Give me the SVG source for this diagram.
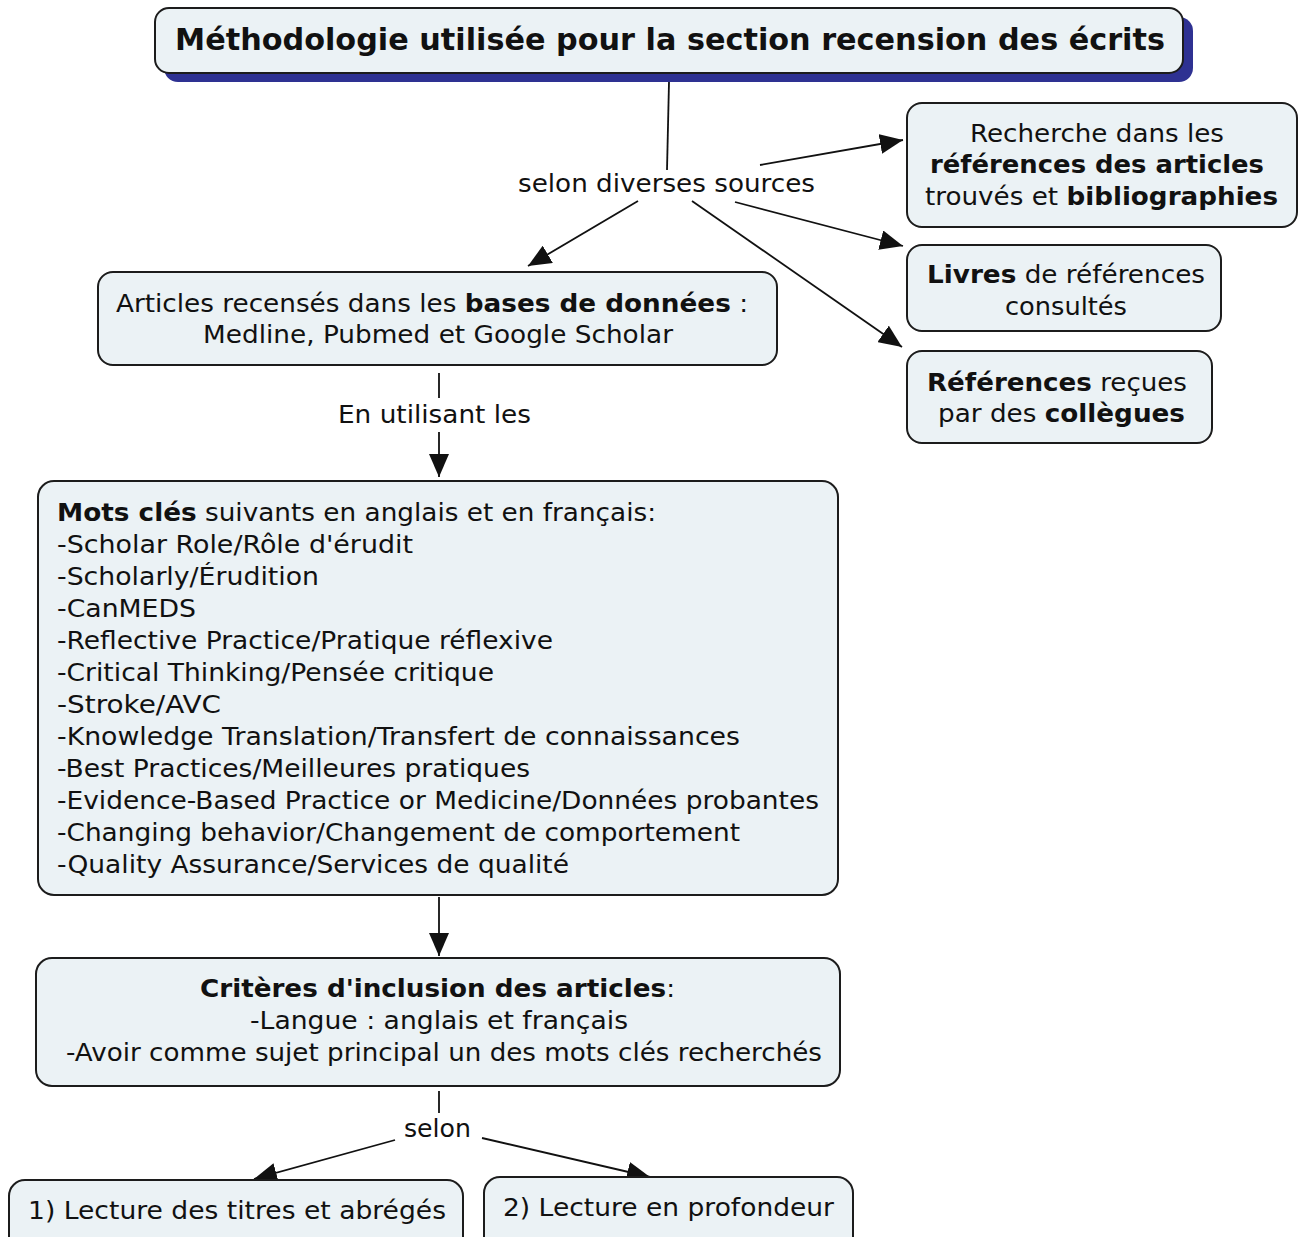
<svg xmlns="http://www.w3.org/2000/svg" width="1301" height="1237" viewBox="0 0 1301 1237">
  <defs>
    <marker id="arrow" markerUnits="userSpaceOnUse" markerWidth="26" markerHeight="20" refX="23" refY="10" orient="auto">
      <path d="M0,0 L23,10 L0,20 z" fill="#111"/>
    </marker>
    <style>
      .box { fill: #ebf2f5; stroke: #1c1c1c; stroke-width: 2; }
      .shadow { fill: #2e3192; }
      .t { font-family: "DejaVu Sans", Verdana, sans-serif; font-size: 25px; fill: #111; }
      .title { font-family: "DejaVu Sans", Verdana, sans-serif; font-size: 30px; font-weight: bold; fill: #111; }
      .b { font-weight: bold; }
      .link { fill: none; stroke: #111; stroke-width: 1.8; }
      .arr { marker-end: url(#arrow); }
    </style>
  </defs>
  <rect width="1301" height="1237" fill="#ffffff"/>

  <!-- connectors -->
  <g id="connectors">
    <line class="link" x1="669" y1="82" x2="667" y2="170"/>
    <line class="link arr" x1="638" y1="201" x2="528" y2="266"/>
    <line class="link arr" x1="760" y1="165" x2="903" y2="140"/>
    <line class="link arr" x1="735" y1="202" x2="903" y2="246"/>
    <line class="link arr" x1="692" y1="201" x2="902" y2="347"/>
    <line class="link" x1="439" y1="373" x2="439" y2="398"/>
    <line class="link arr" x1="439" y1="432" x2="439" y2="477"/>
    <line class="link arr" x1="439" y1="897" x2="439" y2="956"/>
    <line class="link" x1="439" y1="1091" x2="439" y2="1113"/>
    <line class="link arr" x1="395" y1="1140" x2="254" y2="1179"/>
    <line class="link arr" x1="482" y1="1138" x2="650" y2="1177"/>
  </g>

  <!-- linking phrases -->
  <g id="label-sources">
    <text class="t" x="518" y="192" textLength="297" lengthAdjust="spacingAndGlyphs">selon diverses sources</text>
  </g>
  <g id="label-utilisant">
    <text class="t" x="338" y="423" textLength="193" lengthAdjust="spacingAndGlyphs">En utilisant les</text>
  </g>
  <g id="label-selon">
    <text class="t" x="404" y="1137" textLength="67" lengthAdjust="spacingAndGlyphs">selon</text>
  </g>

  <!-- title -->
  <g id="node-title">
    <rect class="shadow" x="164" y="17" width="1029" height="65" rx="14"/>
    <rect class="box" x="155" y="8" width="1028" height="65" rx="14"/>
    <text class="title" x="175" y="50" textLength="990" lengthAdjust="spacingAndGlyphs">Méthodologie utilisée pour la section recension des écrits</text>
  </g>

  <!-- sources -->
  <g id="node-references-articles">
    <rect class="box" x="907" y="103" width="390" height="124" rx="15"/>
    <text class="t" x="970" y="142" textLength="254" lengthAdjust="spacingAndGlyphs">Recherche dans les</text>
    <text class="t b" x="930" y="173" textLength="334" lengthAdjust="spacingAndGlyphs">références des articles</text>
    <text class="t" x="925" y="205" textLength="353" lengthAdjust="spacingAndGlyphs">trouvés et <tspan class="b">bibliographies</tspan></text>
  </g>
  <g id="node-livres">
    <rect class="box" x="907" y="245" width="314" height="86" rx="15"/>
    <text class="t" x="927" y="283" textLength="278" lengthAdjust="spacingAndGlyphs"><tspan class="b">Livres</tspan> de références</text>
    <text class="t" x="1005" y="315" textLength="122" lengthAdjust="spacingAndGlyphs">consultés</text>
  </g>
  <g id="node-collegues">
    <rect class="box" x="907" y="351" width="305" height="92" rx="15"/>
    <text class="t" x="927" y="391" textLength="260" lengthAdjust="spacingAndGlyphs"><tspan class="b">Références</tspan> reçues</text>
    <text class="t" x="938" y="422" textLength="247" lengthAdjust="spacingAndGlyphs">par des <tspan class="b">collègues</tspan></text>
  </g>
  <g id="node-bases">
    <rect class="box" x="98" y="272" width="679" height="93" rx="15"/>
    <text class="t" x="116" y="312" textLength="632" lengthAdjust="spacingAndGlyphs">Articles recensés dans les <tspan class="b">bases de données</tspan> :</text>
    <text class="t" x="203" y="343" textLength="470" lengthAdjust="spacingAndGlyphs">Medline, Pubmed et Google Scholar</text>
  </g>

  <!-- keywords -->
  <g id="node-mots-cles">
    <rect class="box" x="38" y="481" width="800" height="414" rx="16"/>
    <text class="t" x="57" y="521" textLength="599" lengthAdjust="spacingAndGlyphs"><tspan class="b">Mots clés</tspan> suivants en anglais et en français:</text>
    <text class="t" x="57" y="553" textLength="356" lengthAdjust="spacingAndGlyphs">-Scholar Role/Rôle d'érudit</text>
    <text class="t" x="57" y="585" textLength="262" lengthAdjust="spacingAndGlyphs">-Scholarly/Érudition</text>
    <text class="t" x="57" y="617" textLength="139" lengthAdjust="spacingAndGlyphs">-CanMEDS</text>
    <text class="t" x="57" y="649" textLength="496" lengthAdjust="spacingAndGlyphs">-Reflective Practice/Pratique réflexive</text>
    <text class="t" x="57" y="681" textLength="437" lengthAdjust="spacingAndGlyphs">-Critical Thinking/Pensée critique</text>
    <text class="t" x="57" y="713" textLength="164" lengthAdjust="spacingAndGlyphs">-Stroke/AVC</text>
    <text class="t" x="57" y="745" textLength="683" lengthAdjust="spacingAndGlyphs">-Knowledge Translation/Transfert de connaissances</text>
    <text class="t" x="57" y="777" textLength="473" lengthAdjust="spacingAndGlyphs">-Best Practices/Meilleures pratiques</text>
    <text class="t" x="57" y="809" textLength="762" lengthAdjust="spacingAndGlyphs">-Evidence-Based Practice or Medicine/Données probantes</text>
    <text class="t" x="57" y="841" textLength="683" lengthAdjust="spacingAndGlyphs">-Changing behavior/Changement de comportement</text>
    <text class="t" x="57" y="873" textLength="512" lengthAdjust="spacingAndGlyphs">-Quality Assurance/Services de qualité</text>
  </g>

  <!-- inclusion criteria -->
  <g id="node-criteres">
    <rect class="box" x="36" y="958" width="804" height="128" rx="16"/>
    <text class="t" x="200" y="997" textLength="475" lengthAdjust="spacingAndGlyphs"><tspan class="b">Critères d'inclusion des articles</tspan>:</text>
    <text class="t" x="250" y="1029" textLength="378" lengthAdjust="spacingAndGlyphs">-Langue : anglais et français</text>
    <text class="t" x="66" y="1061" textLength="756" lengthAdjust="spacingAndGlyphs">-Avoir comme sujet principal un des mots clés recherchés</text>
  </g>

  <!-- reading steps -->
  <g id="node-lecture-titres">
    <rect class="box" x="9" y="1180" width="454" height="80" rx="16"/>
    <text class="t" x="28" y="1219" textLength="418" lengthAdjust="spacingAndGlyphs">1) Lecture des titres et abrégés</text>
  </g>
  <g id="node-lecture-profondeur">
    <rect class="box" x="484" y="1177" width="369" height="80" rx="16"/>
    <text class="t" x="503" y="1216" textLength="331" lengthAdjust="spacingAndGlyphs">2) Lecture en profondeur</text>
  </g>
</svg>
